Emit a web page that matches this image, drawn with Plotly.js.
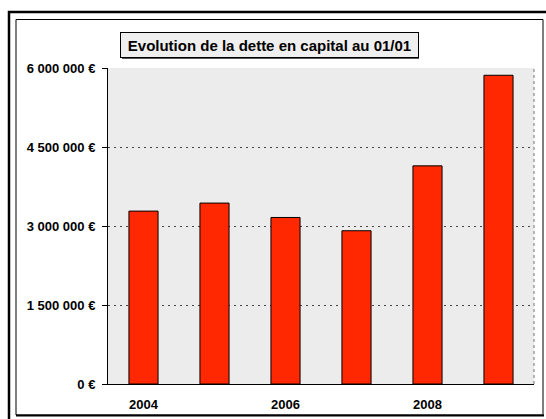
<!DOCTYPE html>
<html>
<head>
<meta charset="utf-8">
<script src="https://cdn.plot.ly/plotly-3.0.1.min.js"></script>
<style>
  body { margin: 0; background: #fff; }
  #chart { width: 546px; height: 419px; }
</style>
</head>
<body>
<div id="chart"></div>
<script>
// dette en capital au 01/01 de chaque annee (euros)
var years = [2004, 2005, 2006, 2007, 2008, 2009];
var dette = [3283000, 3435000, 3162000, 2910000, 4142000, 5862000];

var yTickVals = [0, 1500000, 3000000, 4500000, 6000000];
var yTickText = ['0 €', '1 500 000 €', '3 000 000 €', '4 500 000 €', '6 000 000 €'];
var xTickVals = [2004, 2006, 2008];
var xTickText = ['2004', '2006', '2008'];

var titre = 'Evolution de la dette en capital au 01/01';

// plot area is x 108..534, y 68..384 in pixels; helpers to place frame shapes
var L = 108, R = 534, T = 68, B = 384;
function px(x) { return (x - L) / (R - L); }
function py(y) { return (B - y) / (B - T); }

var trace = {
  x: years,
  y: dette,
  type: 'bar',
  marker: {
    color: '#ff2800',
    line: { color: '#000000', width: 1 }
  },
  hoverinfo: 'none'
};

var layout = {
  width: 546,
  height: 419,
  margin: { l: L, r: 546 - R, t: T, b: 419 - B },
  paper_bgcolor: '#ffffff',
  plot_bgcolor: '#ececec',
  showlegend: false,
  bargap: 0.59,
  font: { family: 'Liberation Sans, Arial, sans-serif', color: '#000', size: 12 },
  xaxis: {
    range: [2003.5, 2009.5],
    tickvals: xTickVals,
    ticktext: xTickText,
    ticks: '',
    showgrid: false,
    zeroline: false,
    showline: true,
    linecolor: '#000',
    linewidth: 1,
    tickfont: { size: 13, weight: 'bold' },
    ticklabelstandoff: 8
  },
  yaxis: {
    range: [0, 6000000],
    tickvals: yTickVals,
    ticktext: yTickText,
    ticks: 'outside',
    ticklen: 5,
    tickcolor: '#000',
    showgrid: true,
    gridcolor: '#444',
    griddash: '2px,4px',
    gridwidth: 1,
    zeroline: false,
    showline: true,
    linecolor: '#000',
    linewidth: 1,
    tickfont: { size: 13, weight: 'bold' },
    ticklabelstandoff: 4
  },
  shapes: [
    // plot area right border (dotted gray)
    { type: 'line', xref: 'paper', yref: 'paper', x0: 1, x1: 1, y0: 0, y1: 1,
      line: { color: '#777', width: 1, dash: 'dot' } },
    // outer double frame
    { type: 'rect', xref: 'paper', yref: 'paper',
      x0: px(9), x1: px(560), y0: py(440), y1: py(12),
      line: { color: '#000', width: 2.5 } },
    { type: 'rect', xref: 'paper', yref: 'paper',
      x0: px(16), x1: px(543), y0: py(415), y1: py(19.5),
      line: { color: '#000', width: 1 } },
    { type: 'line', xref: 'paper', yref: 'paper',
      x0: px(16), x1: px(544), y0: py(415.5), y1: py(415.5),
      line: { color: '#000', width: 2 } },
    // title box shadow
    { type: 'rect', xref: 'paper', yref: 'paper',
      x0: px(122), x1: px(419), y0: py(59), y1: py(34),
      fillcolor: '#555', line: { width: 0 } }
  ],
  annotations: [
    {
      xref: 'paper', yref: 'paper',
      x: px(269), y: py(45),
      xanchor: 'center', yanchor: 'middle',
      text: titre,
      showarrow: false,
      font: { size: 15, weight: 'bold', color: '#000' },
      bgcolor: '#efefef',
      bordercolor: '#000',
      borderwidth: 1,
      borderpad: 3,
      width: 291,
      height: 18
    }
  ]
};

Plotly.newPlot('chart', [trace], layout, { staticPlot: true });
</script>
</body>
</html>
